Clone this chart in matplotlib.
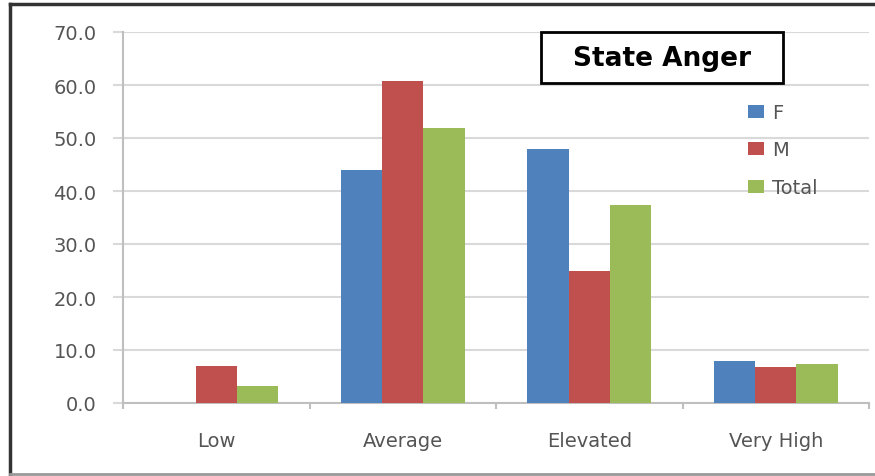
import matplotlib.pyplot as plt
from matplotlib.lines import Line2D
import matplotlib.patches as mpatches
import numpy as np

categories = ["Low", "Average", "Elevated", "Very High"]
series_names = ["F", "M", "Total"]
f_values = [0.0, 44.0, 48.0, 7.9]
m_values = [7.0, 60.8, 25.0, 6.7]
total_values = [3.2, 51.8, 37.3, 7.3]
y_ticks = [0, 10, 20, 30, 40, 50, 60, 70]

colors = ["#4F81BD", "#C0504D", "#9BBB59"]
text_color = "#555555"

W, H = 875, 477
fig = plt.figure(figsize=(W / 100, H / 100), dpi=100)
ax = fig.add_axes([123 / W, 73 / H, 746 / W, 371 / H])

x = np.arange(len(categories))
bar_w = 1 / 4.5
for i, (name, vals) in enumerate(zip(series_names, [f_values, m_values, total_values])):
    ax.bar(x + (i - 1) * bar_w, vals, width=bar_w, color=colors[i], label=name, zorder=3)

ax.set_xlim(-0.5, len(categories) - 0.5)
ax.set_ylim(0, 70)
ax.set_yticks(y_ticks)
ax.set_yticklabels([f"{v:.1f}" for v in y_ticks])
ax.set_xticks(x)
ax.set_xticklabels(categories)
ax.set_xticks(np.arange(-0.5, len(categories)), minor=True)

ax.yaxis.grid(True, color="#d9d9d9", linewidth=1.5, zorder=0)
for s in ["top", "right"]:
    ax.spines[s].set_visible(False)
for s in ["left", "bottom"]:
    ax.spines[s].set_color("#bfbfbf")
    ax.spines[s].set_linewidth(1.5)

ax.tick_params(axis="y", length=7, width=1.5, color="#d9d9d9", pad=12,
               labelsize=14, labelcolor=text_color)
ax.tick_params(axis="x", which="major", length=0, pad=20, labelsize=14, labelcolor=text_color)
ax.tick_params(axis="x", which="minor", length=4, width=1.5, color="#bfbfbf")

leg = ax.legend(loc="upper left", bbox_to_anchor=(748 / W, 1 - 104 / H),
                bbox_transform=fig.transFigure, frameon=False, fontsize=14,
                handlelength=0.8, handleheight=0.65, handletextpad=0.45,
                labelspacing=0.95, borderpad=0, borderaxespad=0)
for t in leg.get_texts():
    t.set_color(text_color)

# title box
fig.patches.append(mpatches.Rectangle((541 / W, 1 - 84 / H), 242 / W, 51 / H,
                                      transform=fig.transFigure, facecolor="white",
                                      edgecolor="black", linewidth=2, zorder=5))
fig.text(662 / W, 1 - 59 / H, "State Anger", ha="center", va="center",
         fontsize=19, fontweight="bold", color="black", zorder=6)

# outer frame: dark top/left, grey bottom
fig.lines.append(Line2D([10 / W, 1], [1 - 5 / H, 1 - 5 / H], transform=fig.transFigure,
                        color="#333333", linewidth=2.5))
fig.lines.append(Line2D([10 / W, 10 / W], [0, 1 - 5 / H], transform=fig.transFigure,
                        color="#333333", linewidth=2.5))
fig.lines.append(Line2D([10 / W, 1], [1 - 475 / H, 1 - 475 / H], transform=fig.transFigure,
                        color="#999999", linewidth=2))

fig.savefig("out.png", dpi=100)
